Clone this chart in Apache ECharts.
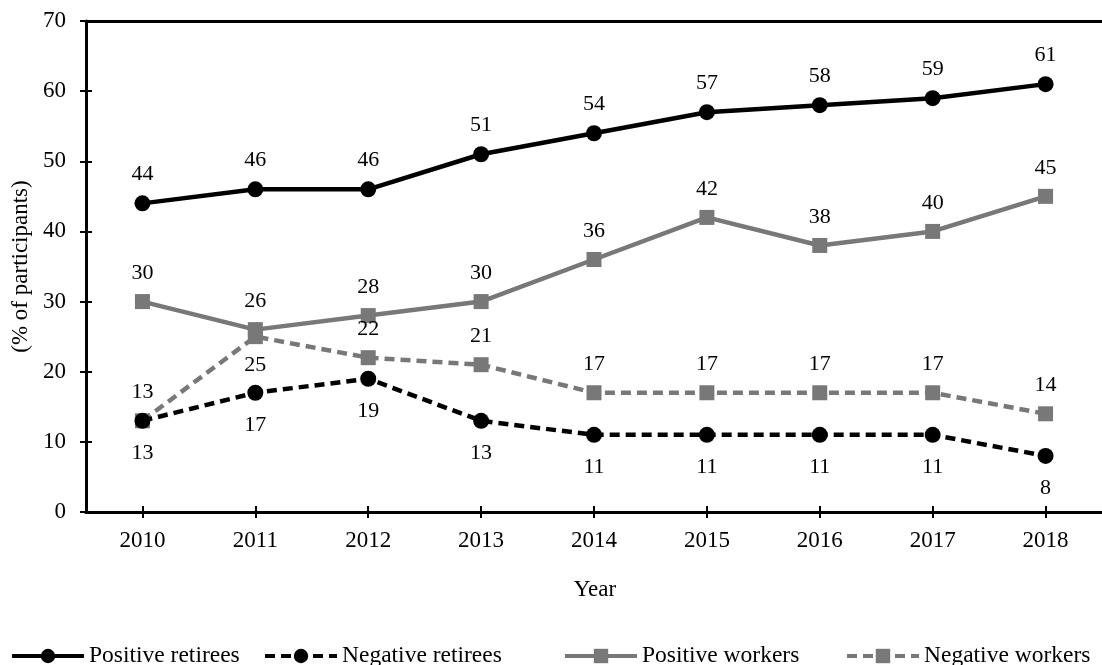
<!DOCTYPE html>
<html><head><meta charset="utf-8">
<script src="https://cdn.jsdelivr.net/npm/echarts@6/dist/echarts.min.js"></script>
<style>html,body{margin:0;padding:0;background:#fff}#c{width:1102px;height:665px}</style>
</head><body><div id="c"></div>
<script>
var years = ['2010','2011','2012','2013','2014','2015','2016','2017','2018'];
var positiveRetirees = [44,46,46,51,54,57,58,59,61];
var negativeRetirees = [13,17,19,13,11,11,11,11,8];
var positiveWorkers = [30,26,28,30,36,42,38,40,45];
var negativeWorkers = [13,25,22,21,17,17,17,17,14];
var negWorkersLabelPos = ['top','bottom','top','top','top','top','top','top','top'];

var FONT = '"Liberation Serif","Times New Roman",serif';
var GRAY = '#787878';
var chart = echarts.init(document.getElementById('c'));
var txt = {fontFamily: FONT, fontSize: 23, color: '#000'};

function lbl(pos, d){ return {show:true, position:pos, distance:d, fontFamily:FONT, fontSize:22, color:'#000'}; }

var grid = {left:86, right:-13, top:21, bottom:153};
var xBase = {type:'category', data:years, boundaryGap:true,
  axisLine:{show:true, lineStyle:{color:'#000', width:3}},
  axisTick:{show:true, alignWithLabel:true, interval:0, length:6, lineStyle:{color:'#000', width:2}},
  splitLine:{show:false}};
var option = {
  animation:false,
  backgroundColor:'#fff',
  grid: grid,
  xAxis: [
    Object.assign({}, xBase, {position:'bottom', axisLabel:Object.assign({margin:17, interval:0}, txt)}),
    Object.assign({}, xBase, {position:'bottom', axisTick:Object.assign({}, xBase.axisTick, {inside:true}), axisLabel:{show:false}}),
    {type:'category', data:years, position:'top', axisLine:{show:true, lineStyle:{color:'#000', width:3}}, axisTick:{show:false}, axisLabel:{show:false}}
  ],
  yAxis: [
    {type:'value', min:0, max:70, interval:10, position:'left',
     name:'(% of participants)', nameLocation:'middle', nameGap:52, nameRotate:90,
     nameTextStyle:Object.assign({}, txt),
     axisLine:{show:true, lineStyle:{color:'#000', width:3}},
     axisTick:{show:true, length:6, lineStyle:{color:'#000', width:2}},
     axisLabel:Object.assign({margin:20}, txt),
     splitLine:{show:false}},
    {type:'value', min:0, max:70, interval:10, position:'left',
     axisLine:{show:false}, axisTick:{show:true, inside:true, length:6, lineStyle:{color:'#000', width:2}},
     axisLabel:{show:false}, splitLine:{show:false}}
  ],
  graphic: [{type:'text', x:595, y:590, style:{text:'Year', font:'23px "Liberation Serif", serif', fill:'#000', align:'center', verticalAlign:'middle'}}],
  legend: [
    {left:10, top:644, data:['Positive retirees']},
    {left:263, top:644, data:['Negative retirees']},
    {left:563, top:644, data:['Positive workers']},
    {left:845, top:644, data:['Negative workers']}
  ].map(function(l){ return Object.assign(l, {itemWidth:72, itemHeight:18, itemGap:0, padding:0,
      lineStyle:{width:4},
      textStyle:{fontFamily:FONT, fontSize:23.5, color:'#000', padding:[0,0,0,0]}}); }),
  series: [
    {name:'Positive retirees', type:'line', data:positiveRetirees, symbol:'circle', symbolSize:16,
     itemStyle:{color:'#000'}, lineStyle:{color:'#000', width:4.5}, label:lbl('top', 10), z:5},
    {name:'Negative retirees', type:'line', data:negativeRetirees, symbol:'circle', symbolSize:16,
     itemStyle:{color:'#000'}, lineStyle:{color:'#000', width:4.5, type:[10,6]}, label:lbl('bottom', 13), z:5},
    {name:'Positive workers', type:'line', data:positiveWorkers, symbol:'rect', symbolSize:15,
     itemStyle:{color:GRAY}, lineStyle:{color:GRAY, width:4.5}, label:lbl('top', 10), z:4},
    {name:'Negative workers', type:'line', data:negativeWorkers.map(function(v,i){return {value:v, label:{position:negWorkersLabelPos[i]}};}),
     symbol:'rect', symbolSize:15,
     itemStyle:{color:GRAY}, lineStyle:{color:GRAY, width:4.5, type:[10,6]}, label:lbl('top', 10), z:4}
  ]
};
chart.setOption(option);
</script></body></html>
